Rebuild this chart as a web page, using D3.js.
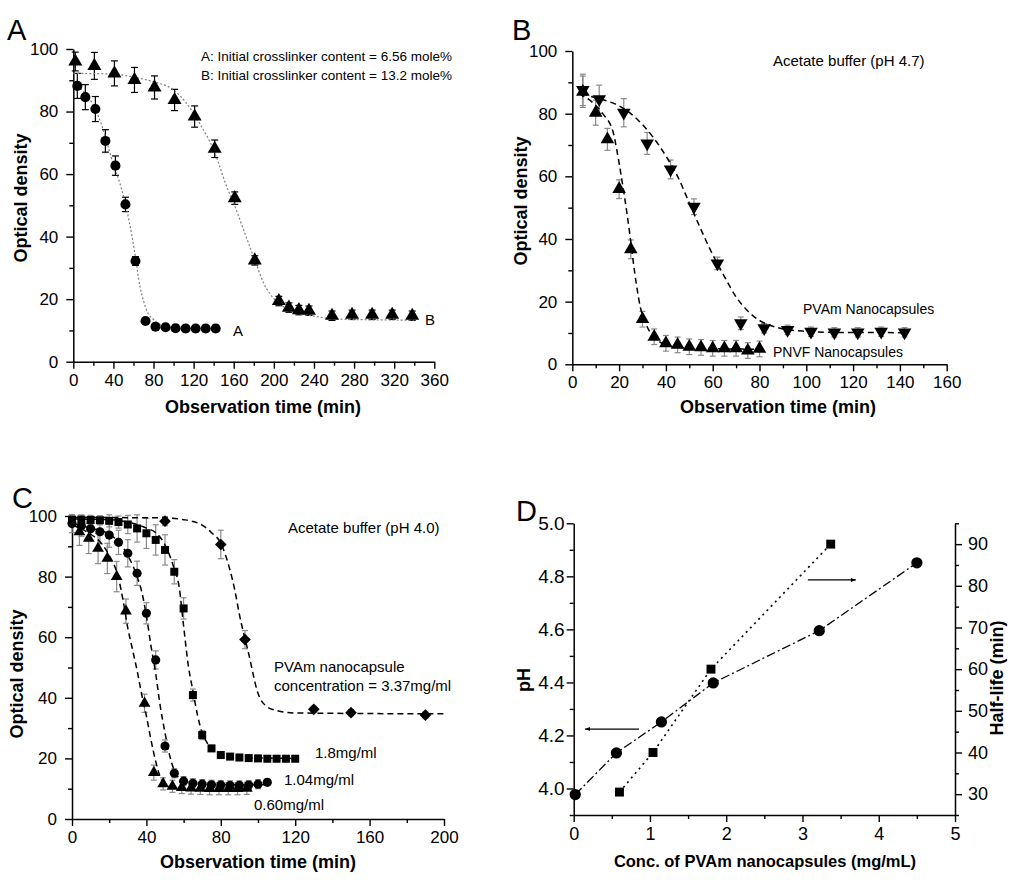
<!DOCTYPE html>
<html><head><meta charset="utf-8">
<script src="https://cdn.jsdelivr.net/npm/d3@7"></script>
<style>body{margin:0;background:#fff}svg{display:block}</style>
</head><body><svg id="c" width="1035" height="888"></svg>
<script>
// ---------- Panel A data ----------
const aTimeA = [4,12,22,32,42,52,62,72,82,92,102,112,122,132,142];
const aOD_A  = [88.2,84.6,80.8,70.6,62.7,50.3,32.2,13.0,11.2,11.0,10.7,10.6,10.6,10.6,10.6];
const aErrA  = [4,4,4,3.6,3.1,2.3,1.4,1,1,1,1,1,1,1,1];
const aTimeB = [2,21,41,61,81,101,121,141,161,181,205,215,225,235,258,278,298,318,338];
const aOD_B  = [96,94.6,92.2,90.1,87.7,83.7,78.4,68.1,52.3,32.4,19.4,17.3,16.5,16.3,14.7,15.0,15.0,15.0,14.7];
const aErrB  = [3,4.3,4,4,3.7,3.4,3.4,2.8,2,1.5,1.5,1.5,1.5,1.5,1.5,1.5,1.5,1.5,1.5];
const aFitAx = [0,10,20,25,30,35,40,45,50,55,58,61.5,66.5,70,73,80,90,100,142];
const aFitAy = [88.5,86.5,82,78.5,74,68.5,63,58.5,53,46,41,34.5,24,19.5,16.5,13.5,11.5,11,10.6];
const aFitBx = [0,40,60,80,100,113,126,140,153,160,170,181,190,200,216,243,276,340];
const aFitBy = [92.2,92,91,89.5,86.9,82.6,76.2,67.7,56,50.6,42,32.5,25,20.2,16.5,14.4,13.5,13.3];

// ---------- Panel B data ----------
const bTimeV = [4.5,11.5,22,32,42,52,62,72,82,92,102,112,122,132,142];
const bOD_V  = [87.6,84.6,80.3,70.5,62.2,50.3,32.2,13.1,11.5,11.0,10.4,10.2,10.2,10.4,10.2];
const bErrV  = [5,4.5,4.5,3.5,3,2.5,2,2,1.5,1.5,1.5,1.5,1.5,1.5,1.5];
const bTimeT = [4.5,10,15,20,25,30,35,40,45,50,55,60,65,70,75,80];
const bOD_T  = [87,80.3,71.8,55.9,36.7,14.4,8.8,6.7,6.2,5.6,5.4,5.1,5.1,5.1,4.4,4.9];
const bErrT  = [5,4,3.5,3,3,2.5,2.5,2.5,2.5,2.5,2.5,2.5,2.5,2.5,2.5,2.5];
const bFitVx = [4,10,15,20,25,30,35,40,45,50,55,60,65,70,75,80,85,90,100,110,142];
const bFitVy = [86.5,85,84,82.5,80,76.5,72,66.5,60,51.5,43,35,28,21.5,17,14,12.3,11.3,10.5,10.2,10.1];
const bFitTx = [3,8,13,17.5,19,20.5,22,24.5,26,27.5,29,32,36,43,55,80];
const bFitTy = [86.5,84,80,74,68.5,62,55,42,33,25,18.5,12,8,5.6,5.1,4.8];

// ---------- Panel C data ----------
const cTime18 = [0,5,10,15,20,25,30,35,40,45,50,55,60,65,70,75,80,85,90,95,100,105,110,115,120];
const cOD18   = [98.8,98.8,98.7,98.6,98.4,98,97.2,95.9,94.3,92.1,88.8,81.6,69.5,40.9,27.7,23.3,21.1,20.6,20.3,20.1,20,19.9,19.9,19.9,19.9];
const cErr18  = [1.5,1.5,1.5,1.5,2,2,3,4.5,5,5,5,4,3.5,2,1.5,1,1,1,1,1,1,1,1,1,1];
const cTime104 = [0,5,10,15,20,25,30,35,40,45,50,55,60,65,70,75,80,85,90,95,100,105];
const cOD104   = [97.5,96.8,95.8,94.8,93.7,91.3,87.7,81.1,67.9,52.5,24.1,15.1,12.5,11.8,11.5,11.3,11.2,11.1,11.1,11.2,11.5,12.1];
const cErr104  = [3,3.5,4,4,4,4,4.5,4,3.5,3,2,1.5,1.5,1.5,1.5,1.5,1.5,1.5,1.5,1.5,1.5,1];
const cTime060 = [4,9,14,19,24,29,39,44,49,54,59,64,69,74,79,84,89,94];
const cOD060   = [94.8,92.6,89.3,86,80,68.6,38.2,15.3,11.6,10.8,10.4,10.2,10.1,10,10,10,10,10.1];
const cErr060  = [4.5,5,5,5,5,4,3,2.5,2,2,2,2,2,2,2,2,2,2];
const cTime337 = [50,80,93,130,150,190];
const cOD337   = [98.3,90.6,59.2,36.2,35.1,34.3];
const cErr337  = [1.5,4.7,3,1,1,1];
const cFit18x  = [0,20,30,40,45,50,55,57.5,60,62.5,65,67.5,70,72.5,75,80,90,120];
const cFit18y  = [99,98.8,98,96,94.5,90.5,82.5,77,63.7,50.8,42.3,34.2,28.5,25.3,23,21.2,20.3,20];
const cFit104x = [0,10,20,25,30,35,37.5,40,42.5,45,47.5,50,52.5,55,57.5,60,65,105];
const cFit104y = [97.5,96,94,91.5,87,80,75,67,57,48,37,28.5,21,16,13.5,12.3,11.5,11.3];
const cFit060x = [0,10,15,20,25,27.5,30,32.5,35,37.5,40,42.5,45,48,51,55,60,95];
const cFit060y = [97,94,91.5,87,79.5,72,63,56,49,41,34,26,19,13,11,10.3,10,10];
const cFit337x = [0,50,60,65,70,75,80,85,87.5,90,95,100,105,110,120,200];
const cFit337y = [99.5,99.4,98.8,98.2,97,94.5,91,82,75.6,67.5,54.5,41.5,37,35.8,35,34.7];

// ---------- Panel D data ----------
const dConcPH = [0.02,0.56,1.15,1.83,3.22,4.5];
const dPH     = [3.977,4.134,4.251,4.398,4.595,4.851];
const dConcHL = [0.6,1.04,1.8,3.37];
const dHalf   = [30.5,40,60,90];

// tick values
const ticksA_x = [0,40,80,120,160,200,240,280,320,360];
const ticksB_x = [0,20,40,60,80,100,120,140,160];
const ticksC_x = [0,40,80,120,160,200];
const ticksOD  = [0,20,40,60,80,100];
const ticksD_x = [0,1,2,3,4,5];
const ticksD_pH = [4.0,4.2,4.4,4.6,4.8,5.0];
const ticksD_hl = [30,40,50,60,70,80,90];

const FONT = "'Liberation Sans', Arial, Helvetica, sans-serif";
const svg = d3.select('#c');
const GRAY = '#8a8a8a';

function minorOf(major){ const r=[]; for(let i=0;i<major.length-1;i++) r.push((major[i]+major[i+1])/2); return r; }

function styleAxis(g, fs){
  g.attr('font-family', FONT).attr('font-size', fs);
  g.selectAll('.domain').attr('stroke','#000').attr('stroke-width',1.5);
  g.selectAll('.tick line').attr('stroke','#000').attr('stroke-width',1.4);
  g.selectAll('.tick text').attr('fill','#000');
}

function bottomAxis(g, x, y0, major, fmt, fs){
  const gm = g.append('g').attr('transform',`translate(0,${y0})`)
    .call(d3.axisBottom(x).tickValues(minorOf(major)).tickSize(4).tickFormat('').tickSizeOuter(0));
  gm.select('.domain').remove();
  styleAxis(gm, fs);
  const ga = g.append('g').attr('transform',`translate(0,${y0})`)
    .call(d3.axisBottom(x).tickValues(major).tickSize(7).tickPadding(5).tickFormat(fmt).tickSizeOuter(0));
  styleAxis(ga, fs);
}
function leftAxis(g, y, x0, major, minor, fmt, fs, pad=8){
  const gm = g.append('g').attr('transform',`translate(${x0},0)`)
    .call(d3.axisLeft(y).tickValues(minor).tickSize(4).tickFormat('').tickSizeOuter(0));
  gm.select('.domain').remove();
  styleAxis(gm, fs);
  const ga = g.append('g').attr('transform',`translate(${x0},0)`)
    .call(d3.axisLeft(y).tickValues(major).tickSize(7).tickPadding(pad).tickFormat(fmt).tickSizeOuter(0));
  styleAxis(ga, fs);
}
function rightAxis(g, y, x0, major, minor, fmt, fs){
  const gm = g.append('g').attr('transform',`translate(${x0},0)`)
    .call(d3.axisRight(y).tickValues(minor).tickSize(4).tickFormat('').tickSizeOuter(0));
  gm.select('.domain').remove();
  styleAxis(gm, fs);
  const ga = g.append('g').attr('transform',`translate(${x0},0)`)
    .call(d3.axisRight(y).tickValues(major).tickSize(7).tickPadding(6).tickFormat(fmt).tickSizeOuter(0));
  styleAxis(ga, fs);
}

function text(x, y, s, o={}){
  const t = svg.append('text').attr('x',x).attr('y',y).text(s)
    .attr('font-family',FONT).attr('font-size',o.fs||15)
    .attr('font-weight',o.bold?'bold':'normal')
    .attr('text-anchor',o.anchor||'start').attr('fill','#000');
  if(o.rot){ t.attr('transform',`rotate(${o.rot},${x},${y})`).attr('dy','0.35em'); }
  return t;
}

function errBars(g, x, y, xs, vs, es, color, cap){
  const idx = d3.range(xs.length);
  const eg = g.append('g').attr('stroke',color).attr('stroke-width',1.2);
  eg.selectAll('.v').data(idx).join('line')
    .attr('x1',i=>x(xs[i])).attr('x2',i=>x(xs[i]))
    .attr('y1',i=>y(vs[i]-es[i])).attr('y2',i=>y(vs[i]+es[i]));
  eg.selectAll('.t').data(idx).join('line')
    .attr('x1',i=>x(xs[i])-cap).attr('x2',i=>x(xs[i])+cap)
    .attr('y1',i=>y(vs[i]+es[i])).attr('y2',i=>y(vs[i]+es[i]));
  eg.selectAll('.b').data(idx).join('line')
    .attr('x1',i=>x(xs[i])-cap).attr('x2',i=>x(xs[i])+cap)
    .attr('y1',i=>y(vs[i]-es[i])).attr('y2',i=>y(vs[i]-es[i]));
}
function markers(g, x, y, xs, vs, type, size, rot=0){
  g.append('g').selectAll('path').data(d3.range(xs.length)).join('path')
    .attr('d', d3.symbol().type(type).size(size)())
    .attr('transform', i=>`translate(${x(xs[i])},${y(vs[i])}) rotate(${rot})`)
    .attr('fill','#000');
}
function fitLine(g, x, y, fx, fy, stroke, dash, w, curve=d3.curveMonotoneX){
  g.append('path').datum(d3.range(fx.length))
    .attr('d', d3.line().x(i=>x(fx[i])).y(i=>y(fy[i])).curve(curve))
    .attr('fill','none').attr('stroke',stroke).attr('stroke-dasharray',dash).attr('stroke-width',w);
}

// ================= Panel A =================
{
  const x = d3.scaleLinear().domain([0,360]).range([73.3,434.3]);
  const y = d3.scaleLinear().domain([0,100]).range([361.7,49]);
  const g = svg.append('g');
  bottomAxis(g, x, 361.7, ticksA_x, d3.format('d'), 17);
  leftAxis(g, y, 73.3, ticksOD, minorOf(ticksOD), d3.format('d'), 17);
  errBars(g, x, y, aTimeA, aOD_A, aErrA, '#000', 3.5);
  errBars(g, x, y, aTimeB, aOD_B, aErrB, '#000', 3.5);
  fitLine(g, x, y, aFitAx, aFitAy, '#808080', '2,2', 1.2);
  fitLine(g, x, y, aFitBx, aFitBy, '#808080', '2,2', 1.2);
  markers(g, x, y, aTimeA, aOD_A, d3.symbolCircle, 80);
  markers(g, x, y, aTimeB, aOD_B, d3.symbolTriangle, 85);
  text(7, 40, 'A', {fs:29});
  text(201, 61, 'A: Initial crosslinker content = 6.56 mole%', {fs:13.5});
  text(201, 80, 'B: Initial crosslinker content = 13.2 mole%', {fs:13.5});
  text(233, 336, 'A', {fs:15});
  text(425, 325, 'B', {fs:15});
  text(263, 413, 'Observation time (min)', {fs:18, bold:true, anchor:'middle'});
  text(21, 198, 'Optical density', {fs:18, bold:true, anchor:'middle', rot:-90});
}

// ================= Panel B =================
{
  const x = d3.scaleLinear().domain([0,160]).range([572.3,946.7]);
  const y = d3.scaleLinear().domain([0,100]).range([364.3,51]);
  const g = svg.append('g');
  bottomAxis(g, x, 364.3, ticksB_x, d3.format('d'), 17);
  leftAxis(g, y, 572.3, ticksOD, minorOf(ticksOD), d3.format('d'), 17);
  errBars(g, x, y, bTimeV, bOD_V, bErrV, GRAY, 3);
  errBars(g, x, y, bTimeT, bOD_T, bErrT, GRAY, 3);
  fitLine(g, x, y, bFitVx, bFitVy, '#000', '6,4', 1.5);
  fitLine(g, x, y, bFitTx, bFitTy, '#000', '6,4', 1.5);
  markers(g, x, y, bTimeT, bOD_T, d3.symbolTriangle, 80);
  markers(g, x, y, bTimeV, bOD_V, d3.symbolTriangle, 80, 180);
  text(512, 40, 'B', {fs:29});
  text(773, 66, 'Acetate buffer (pH 4.7)', {fs:15});
  text(803, 314, 'PVAm Nanocapsules', {fs:14});
  text(773, 357, 'PNVF Nanocapsules', {fs:14});
  text(778, 413, 'Observation time (min)', {fs:18, bold:true, anchor:'middle'});
  text(521, 201, 'Optical density', {fs:18, bold:true, anchor:'middle', rot:-90});
}

// ================= Panel C =================
{
  const x = d3.scaleLinear().domain([0,200]).range([72,444]);
  const y = d3.scaleLinear().domain([0,100]).range([819,516]);
  const g = svg.append('g');
  bottomAxis(g, x, 819, ticksC_x, d3.format('d'), 17);
  leftAxis(g, y, 72, ticksOD, minorOf(ticksOD), d3.format('d'), 17);
  errBars(g, x, y, cTime337, cOD337, cErr337, GRAY, 3);
  errBars(g, x, y, cTime060, cOD060, cErr060, GRAY, 3);
  errBars(g, x, y, cTime104, cOD104, cErr104, GRAY, 3);
  errBars(g, x, y, cTime18, cOD18, cErr18, GRAY, 3);
  fitLine(g, x, y, cFit337x, cFit337y, '#000', '6,4', 1.5);
  fitLine(g, x, y, cFit18x, cFit18y, '#000', '6,4', 1.5);
  fitLine(g, x, y, cFit104x, cFit104y, '#000', '6,4', 1.5);
  fitLine(g, x, y, cFit060x, cFit060y, '#000', '6,4', 1.5);
  markers(g, x, y, cTime060, cOD060, d3.symbolTriangle, 60);
  markers(g, x, y, cTime104, cOD104, d3.symbolCircle, 66);
  markers(g, x, y, cTime18, cOD18, d3.symbolSquare, 64);
  markers(g, x, y, cTime337, cOD337, d3.symbolSquare, 68, 45);
  text(12, 508, 'C', {fs:29});
  text(288, 533, 'Acetate buffer (pH 4.0)', {fs:15});
  text(274, 672, 'PVAm nanocapsule', {fs:15});
  text(274, 691, 'concentration = 3.37mg/ml', {fs:15});
  text(315, 758, '1.8mg/ml', {fs:15});
  text(284, 785, '1.04mg/ml', {fs:15});
  text(254, 810, '0.60mg/ml', {fs:15});
  text(258, 868, 'Observation time (min)', {fs:18, bold:true, anchor:'middle'});
  text(17, 674, 'Optical density', {fs:18, bold:true, anchor:'middle', rot:-90});
}

// ================= Panel D =================
{
  const x = d3.scaleLinear().domain([0,5]).range([573.7,955]);
  const yL = d3.scaleLinear().domain([3.9,5.0]).range([815,523.3]);
  const yR = d3.scaleLinear().domain([25,95]).range([815,523.3]);
  const g = svg.append('g');
  bottomAxis(g, x, 815, ticksD_x, d3.format('d'), 18);
  leftAxis(g, yL, 573.7, ticksD_pH, [3.9,4.1,4.3,4.5,4.7,4.9], d3.format('.1f'), 19, 2);
  rightAxis(g, yR, 955, ticksD_hl, [25,35,45,55,65,75,85,95], d3.format('d'), 18);
  fitLine(g, x, yL, dConcPH, dPH, '#000', '9,3,2,3', 1.3, d3.curveLinear);
  fitLine(g, x, yR, dConcHL, dHalf, '#000', '2,4', 1.6, d3.curveLinear);
  markers(g, x, yL, dConcPH, dPH, d3.symbolCircle, 100);
  markers(g, x, yR, dConcHL, dHalf, d3.symbolSquare, 80);
  // arrows (in data units)
  const defs = svg.append('defs');
  defs.append('marker').attr('id','ah').attr('viewBox','0 0 10 10').attr('refX',10).attr('refY',5)
    .attr('markerWidth',8).attr('markerHeight',5).attr('orient','auto-start-reverse')
    .attr('markerUnits','userSpaceOnUse')
    .append('path').attr('d','M0,1 L10,5 L0,9 z').attr('fill','#000');
  g.append('line').attr('x1',x(0.856)).attr('x2',x(0.148)).attr('y1',yL(4.224)).attr('y2',yL(4.224))
    .attr('stroke','#000').attr('stroke-width',1.2).attr('marker-end','url(#ah)');
  g.append('line').attr('x1',x(3.07)).attr('x2',x(3.70)).attr('y1',yR(81.4)).attr('y2',yR(81.4))
    .attr('stroke','#000').attr('stroke-width',1.2).attr('marker-end','url(#ah)');
  text(516, 521, 'D', {fs:29});
  text(765, 867, 'Conc. of PVAm nanocapsules (mg/mL)', {fs:16.5, bold:true, anchor:'middle'});
  text(524, 680, 'pH', {fs:18, bold:true, anchor:'middle', rot:-90});
  text(997, 678, 'Half-life (min)', {fs:18, bold:true, anchor:'middle', rot:-90});
}
</script></body></html>
